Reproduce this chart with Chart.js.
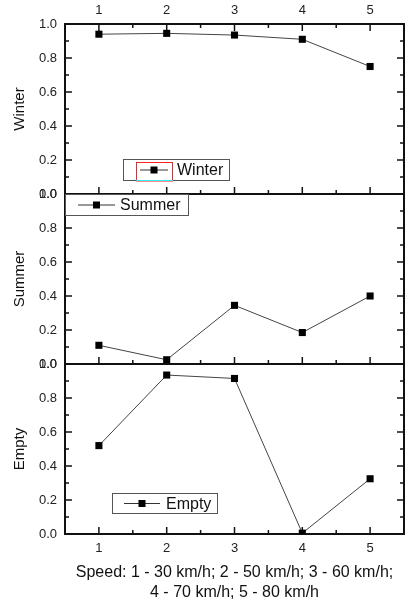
<!DOCTYPE html>
<html>
<head>
<meta charset="utf-8">
<title>Winter / Summer / Empty vs speed</title>
<script src="https://cdn.jsdelivr.net/npm/chart.js@4.4.1/dist/chart.umd.min.js"></script>
<style>
  html, body { margin: 0; padding: 0; background: #fff; overflow: hidden; }
  #wrap { width: 407px; height: 607px; overflow: hidden; }
  canvas { display: block; }
</style>
</head>
<body>
<div id="wrap"><canvas id="chart" width="409" height="607"></canvas></div>
<script>
const speeds = [1, 2, 3, 4, 5];
const winter = [0.94, 0.945, 0.935, 0.91, 0.75];
const summer = [0.11, 0.025, 0.345, 0.185, 0.40];
const empty = [0.52, 0.935, 0.915, 0.005, 0.325];
const yTicks = [0, 0.2, 0.4, 0.6, 0.8, 1.0];
const xTitle = ['Speed: 1 - 30 km/h; 2 - 50 km/h; 3 - 60 km/h;', '4 - 70 km/h; 5 - 80 km/h'];

const FONT = '"Liberation Sans", Arial, sans-serif';
const INK = '#111';

// legend boxes in pixels: [x, y, w, h], sample line start/length, text start
const legendBoxes = [
    { label: 'Winter', box: [123, 159, 107, 22], sample: 140, len: 28, text: 177, highlight: true },
    { label: 'Summer', box: [65, 194, 124, 22], sample: 78, len: 37, text: 120 },
    { label: 'Empty', box: [112, 493, 106, 21], sample: 124, len: 36, text: 166 }
];

function series(label, values, axisId) {
    return {
        label: label,
        yAxisID: axisId,
        data: speeds.map((s, i) => ({ x: s, y: values[i] })),
        borderColor: '#444',
        borderWidth: 1,
        pointStyle: 'rect',
        pointRadius: 5,
        pointBorderWidth: 0,
        pointBackgroundColor: '#000',
        tension: 0,
        fill: false
    };
}

function panelAxis(name, weight) {
    return {
        type: 'linear',
        position: 'left',
        stack: 'panels',
        stackWeight: 1,
        weight: weight,
        min: 0,
        max: 1,
        afterFit: (s) => { s.width = 65; },
        afterBuildTicks: (s) => { s.ticks = yTicks.map((v) => ({ value: v })); },
        grid: { display: false, drawTicks: false },
        border: { display: false },
        ticks: {
            padding: 8,
            color: '#222',
            font: { family: FONT, size: 13 },
            callback: (v) => Number(v).toFixed(1)
        },
        title: {
            display: true,
            text: name,
            color: INK,
            font: { family: FONT, size: 15 },
            padding: { top: 11, bottom: 0 }
        }
    };
}

function speedAxis(position, fitHeight, pad) {
    return {
        type: 'linear',
        position: position,
        min: 0.5,
        max: 5.5,
        afterFit: (s) => { s.height = fitHeight; },
        afterBuildTicks: (s) => { s.ticks = speeds.map((v) => ({ value: v })); },
        grid: { display: false, drawTicks: false },
        border: { display: false },
        ticks: {
            padding: pad,
            color: '#222',
            font: { family: FONT, size: 13 },
            maxRotation: 0
        }
    };
}

function line(ctx, x1, y1, x2, y2) {
    ctx.beginPath();
    ctx.moveTo(x1, y1);
    ctx.lineTo(x2, y2);
    ctx.stroke();
}

const framePlugin = {
    id: 'frame',
    beforeDatasetsDraw(chart) {
        const ctx = chart.ctx;
        const { left, right, top, bottom } = chart.chartArea;
        const xs = chart.scales.x;
        const panels = ['yWinter', 'ySummer', 'yEmpty'].map((id) => chart.scales[id]);

        ctx.save();
        ctx.strokeStyle = INK;
        ctx.lineWidth = 1.5;

        // inward tick marks
        for (let v = 1; v <= 5; v += 0.5) {
            const px = xs.getPixelForValue(v);
            const len = Number.isInteger(v) ? 7 : 4;
            line(ctx, px, top, px, top + len);
            panels.forEach((p) => line(ctx, px, p.bottom, px, p.bottom - len));
        }
        panels.forEach((p) => {
            for (let k = 1; k < 10; k++) {
                const py = p.getPixelForValue(k / 10);
                const len = k % 2 === 0 ? 7 : 4;
                line(ctx, left, py, left + len, py);
                line(ctx, right, py, right - len, py);
            }
        });

        // frame and panel separators
        ctx.lineWidth = 2;
        ctx.strokeRect(left, top, right - left, bottom - top);
        panels.slice(0, 2).forEach((p) => line(ctx, left, p.bottom, right, p.bottom));
        ctx.restore();
    },
    afterDatasetsDraw(chart) {
        const ctx = chart.ctx;
        ctx.save();
        legendBoxes.forEach((lg) => {
            const [bx, by, bw, bh] = lg.box;
            const cy = by + bh / 2;
            ctx.fillStyle = '#fff';
            ctx.fillRect(bx, by, bw, bh);
            ctx.strokeStyle = '#555';
            ctx.lineWidth = 1;
            ctx.strokeRect(bx + 0.5, by + 0.5, bw - 1, bh - 1);

            if (lg.highlight) {
                ctx.strokeStyle = '#ff2020';
                ctx.strokeRect(lg.sample - 3.5, by + 3.5, lg.len + 8, bh - 3.5);
                ctx.strokeStyle = '#30e8f0';
                line(ctx, lg.sample - 4, by + bh - 0.5, lg.sample + lg.len + 5, by + bh - 0.5);
            }

            ctx.strokeStyle = '#333';
            line(ctx, lg.sample, cy, lg.sample + lg.len, cy);
            ctx.fillStyle = '#000';
            const mx = lg.sample + lg.len / 2;
            ctx.fillRect(mx - 3.5, cy - 3.5, 7, 7);

            ctx.fillStyle = INK;
            ctx.font = '16px ' + FONT;
            ctx.textBaseline = 'middle';
            ctx.textAlign = 'left';
            ctx.fillText(lg.label, lg.text, cy + 1);
        });
        ctx.restore();
    }
};

const xBottom = speedAxis('bottom', 73, 7);
xBottom.title = {
    display: true,
    text: xTitle,
    color: INK,
    font: { family: FONT, size: 16, lineHeight: 1.25 },
    padding: { top: 0, bottom: 4 }
};

new Chart(document.getElementById('chart').getContext('2d'), {
    type: 'line',
    data: {
        datasets: [
            series('Winter', winter, 'yWinter'),
            series('Summer', summer, 'ySummer'),
            series('Empty', empty, 'yEmpty')
        ]
    },
    options: {
        responsive: false,
        animation: false,
        layout: { padding: { left: 0, right: 1, top: 0, bottom: 0 } },
        plugins: {
            legend: { display: false },
            tooltip: { enabled: false }
        },
        scales: {
            x: xBottom,
            xTop: speedAxis('top', 24, 6),
            yWinter: panelAxis('Winter', 3),
            ySummer: panelAxis('Summer', 2),
            yEmpty: panelAxis('Empty', 1)
        }
    },
    plugins: [framePlugin]
});
</script>
</body>
</html>
